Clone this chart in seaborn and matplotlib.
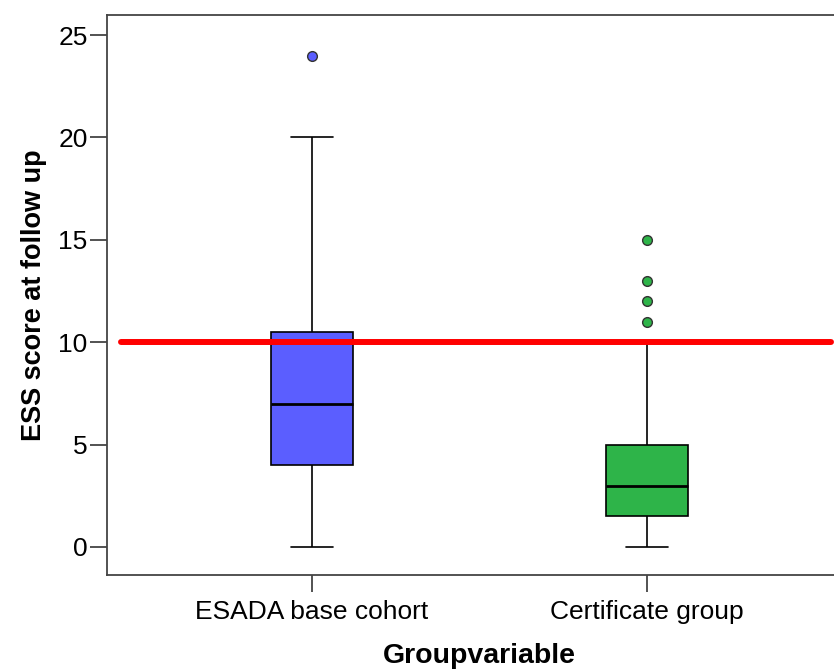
import matplotlib
matplotlib.use("Agg")
import matplotlib.pyplot as plt
import seaborn as sns
import pandas as pd

# ---- data ----
categories = ["ESADA base cohort", "Certificate group"]
# sample values chosen so that quartiles / whiskers / outliers match the chart
esada_scores = [0, 4, 4, 7, 7, 7, 10.5, 20, 24]
certificate_scores = [0, 1.5, 1.5, 1.5, 1.5, 1.5, 3, 3, 3, 3, 3,
                      5, 5, 5, 5, 5, 10, 11, 12, 13, 15]
threshold = 10
y_ticks = [0, 5, 10, 15, 20, 25]
box_colors = ["#5B5EFF", "#2EB449"]

df = pd.DataFrame({
    "Groupvariable": [categories[0]] * len(esada_scores) + [categories[1]] * len(certificate_scores),
    "ESS score at follow up": esada_scores + certificate_scores,
})

sns.set_style("white")
plt.rcParams["font.family"] = ["Liberation Sans", "DejaVu Sans"]
plt.rcParams["text.color"] = "black"
plt.rcParams["axes.labelcolor"] = "black"

fig = plt.figure(figsize=(8.34, 6.72), dpi=100)
# axes extends slightly past the right edge of the figure (as in the reference)
ax = fig.add_axes([107 / 834, 97 / 672, 745 / 834, 560 / 672])

sns.boxplot(
    data=df, x="Groupvariable", y="ESS score at follow up",
    hue="Groupvariable", palette=box_colors, legend=False, saturation=1,
    width=0.245, linecolor="black", linewidth=1.2, whis=1.5,
    medianprops=dict(linewidth=2.0, color="black"),
    flierprops=dict(marker="o", markeredgecolor="#333333", markersize=7,
                    markeredgewidth=1.0),
    ax=ax,
)

# colour the outlier markers like their boxes
for line in ax.lines:
    if line.get_marker() == "o":
        xd = line.get_xdata()
        if len(xd):
            idx = int(round(float(xd[0])))
            line.set_markerfacecolor(box_colors[idx])

ax.axhline(threshold, xmin=0.0188, xmax=0.972, color="red", linewidth=4.3, zorder=5)

ax.set_xlim(-0.612, 1.612)
ax.set_ylim(-1.37, 25.98)
ax.set_yticks(y_ticks)
ax.set_yticklabels([str(t) for t in y_ticks])

for s in ["left", "bottom", "top", "right"]:
    ax.spines[s].set_visible(True)
    ax.spines[s].set_color("#444444")
    ax.spines[s].set_linewidth(1.3)

ax.tick_params(axis="both", which="major", direction="out", length=12,
               width=1.3, color="#444444", labelsize=19, labelcolor="black")
ax.tick_params(axis="y", pad=2)
ax.tick_params(axis="x", pad=6)
ax.tick_params(left=True, bottom=True)

ax.set_xlabel("Groupvariable", fontsize=20.5, fontweight="bold", labelpad=13.5, color="black")
ax.set_ylabel("ESS score at follow up", fontsize=19.5, fontweight="bold", labelpad=8, color="black")

fig.savefig("out.png", dpi=100, facecolor="white")
